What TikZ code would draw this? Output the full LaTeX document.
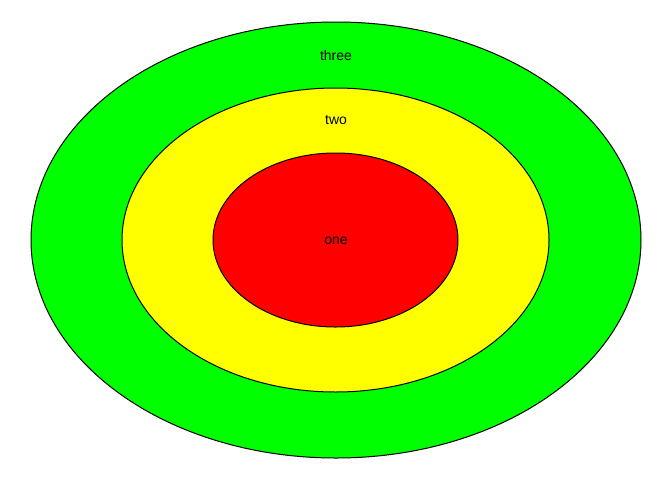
\documentclass[tikz,border=0pt]{standalone}
\usepackage{fontspec}
\setmainfont{Liberation Sans}
\usetikzlibrary{shapes.geometric}
\begin{document}
\begin{tikzpicture}[x=1pt,y=-1pt,
  ring/.style={ellipse,draw=black,line width=1pt,inner sep=0pt},
  lbl/.style={font=\fontsize{14}{16}\selectfont,inner sep=0pt}]
\useasboundingbox (0,0) rectangle (672,480);
\node[ring,fill={rgb,255:red,0;green,255;blue,0},minimum width=610pt,minimum height=436pt] (three) at (336,240) {};
\node[ring,fill={rgb,255:red,255;green,255;blue,0},minimum width=427pt,minimum height=304pt] (two) at (335.5,240) {};
\node[ring,fill={rgb,255:red,255;green,0;blue,0},minimum width=245pt,minimum height=174pt] (one) at (335.5,240) {};
\node[lbl] (tthree) at (336,55) {three};
\node[lbl] (ttwo) at (336,120) {two};
\node[lbl] (tone) at (336,241) {one};
\end{tikzpicture}
\end{document}
